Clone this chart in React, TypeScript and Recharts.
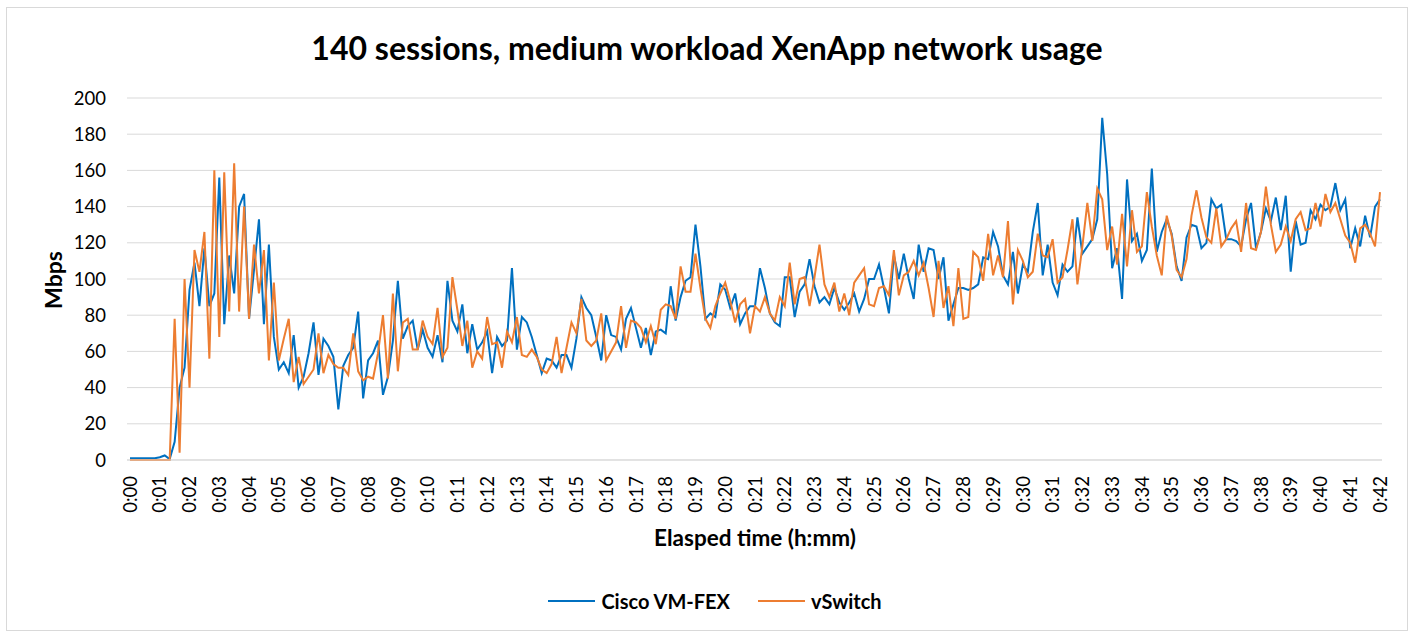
import React from "react";
import { LineChart, Line, XAxis, YAxis, CartesianGrid, Legend } from "recharts";

// Samples every 10 seconds, 0:00 .. 0:42
const tickLabels = [
  "0:00","0:01","0:02","0:03","0:04","0:05","0:06","0:07","0:08","0:09",
  "0:10","0:11","0:12","0:13","0:14","0:15","0:16","0:17","0:18","0:19",
  "0:20","0:21","0:22","0:23","0:24","0:25","0:26","0:27","0:28","0:29",
  "0:30","0:31","0:32","0:33","0:34","0:35","0:36","0:37","0:38","0:39",
  "0:40","0:41","0:42",
];

const yTicks = [0, 20, 40, 60, 80, 100, 120, 140, 160, 180, 200];

const ciscoVmFex = [
  1,1,1,1,1,1,1.5,2.5,0.5,10,
  40,51,94,109,85,117,85,92,156,75,
  113,92,140,147,78,105,133,75,119,68,
  50,54,48,69,40,46,59,76,47,67,
  63,57,28,52,58,62,82,34,55,59,
  66,36,46,66,99,67,74,77,61,72,
  62,57,69,54,99,77,71,86,59,75,
  61,65,71,48,68,63,66,106,61,79,
  76,68,58,48,56,55,51,58,58,51,
  67,90,84,80,68,55,80,69,68,61,
  78,84,73,62,73,58,71,72,70,96,
  77,90,99,101,130,107,78,81,79,97,
  94,84,92,75,81,85,85,106,95,81,
  76,74,101,101,79,93,97,111,96,87,
  90,86,95,87,83,87,92,82,89,100,
  100,108,95,81,113,100,114,100,89,119,
  104,117,116,100,112,77,86,95,95,94,
  95,97,112,111,126,118,102,97,115,92,
  108,104,126,142,102,119,98,91,108,104,
  107,134,114,118,122,133,189,158,106,117,
  89,155,121,125,110,116,161,115,126,133,
  125,107,99,123,130,129,117,120,144,139,
  141,122,122,121,118,133,142,117,126,139,
  132,145,127,146,104,132,119,120,138,133,
  141,138,140,153,138,144,117,128,118,135,
  123,140,144,
];

const vSwitch = [
  0,0,0,0,0,0,0,0,0,78,
  4,100,40,116,104,126,56,160,68,159,
  82,164,82,140,78,119,92,116,55,98,
  55,67,78,43,57,42,46,50,70,48,
  58,53,51,51,47,70,49,44,46,45,
  59,80,45,92,49,76,78,61,61,77,
  68,64,84,57,62,101,83,63,77,51,
  60,56,79,64,65,51,71,65,79,58,
  57,61,57,50,48,53,68,48,62,76,
  70,89,66,63,66,81,55,60,65,85,
  62,77,76,73,65,74,64,83,86,85,
  78,107,93,93,114,95,78,73,85,92,
  98,88,76,86,89,70,85,82,90,81,
  77,90,85,109,86,100,101,85,101,119,
  97,90,98,82,92,80,98,102,106,86,
  85,95,96,91,116,91,102,104,110,102,
  109,95,79,110,84,96,74,106,78,79,
  115,112,99,125,102,113,101,132,86,116,
  110,101,104,125,113,112,122,98,101,116,
  133,97,118,142,121,150,144,116,129,108,
  136,107,138,115,118,148,129,113,102,135,
  124,105,101,111,135,149,134,123,120,139,
  118,122,128,132,115,142,117,116,126,151,
  130,115,119,129,121,133,137,127,128,142,
  129,147,137,142,133,124,120,109,128,130,
  125,118,148,
];

const SAMPLES_PER_MINUTE = 6;

const data = ciscoVmFex.map((v, i) => ({ t: i, cisco: v, vswitch: vSwitch[i] }));
const xTicks = tickLabels.map((_, i) => i * SAMPLES_PER_MINUTE);

const FONT = "Lato, 'Open Sans', sans-serif";

const XTick = (props: any) => {
  const { x, y, payload } = props;
  const label = tickLabels[Math.round(payload.value / SAMPLES_PER_MINUTE)];
  return (
    <text
      x={x}
      y={y}
      transform={`rotate(-90 ${x} ${y})`}
      textAnchor="end"
      dy="0.36em"
      fontSize={18.5}
      fontFamily={FONT}
      fill="#000"
    >
      {label}
    </text>
  );
};

const YTick = (props: any) => {
  const { x, y, payload } = props;
  return (
    <text x={x} y={y} textAnchor="end" dy="0.36em" fontSize={18.5} fontFamily={FONT} fill="#000">
      {payload.value}
    </text>
  );
};

const LegendContent = (props: any) => {
  const { payload } = props;
  return (
    <div style={{ display: "flex", justifyContent: "center", alignItems: "center", gap: 28, fontFamily: FONT }}>
      {(payload || []).map((p: any) => (
        <div key={p.value} style={{ display: "flex", alignItems: "center" }}>
          <div style={{ width: 47, height: 2, background: p.color, marginRight: 6 }} />
          <span style={{ fontWeight: 700, fontSize: 20, color: "#000", lineHeight: "24px" }}>{p.value}</span>
        </div>
      ))}
    </div>
  );
};

export default function App() {
  return (
    <div style={{ position: "absolute", left: 0, top: 0, width: 1416, height: 633, background: "#fff" }}>
      <div
        style={{
          position: "absolute",
          left: 6,
          top: 7,
          width: 1400,
          height: 622,
          border: "1px solid #d9d9d9",
        }}
      />
      <div
        style={{
          position: "absolute",
          left: 0,
          top: 28,
          width: 1414,
          textAlign: "center",
          fontFamily: FONT,
          fontWeight: 700,
          fontSize: 32,
          color: "#000",
          lineHeight: "40px",
        }}
      >
        140 sessions, medium workload XenApp network usage
      </div>
      <div
        style={{
          position: "absolute",
          left: 53 - 40,
          top: 280 - 14,
          width: 80,
          height: 28,
          lineHeight: "28px",
          textAlign: "center",
          transform: "rotate(-90deg)",
          fontFamily: FONT,
          fontWeight: 700,
          fontSize: 23,
          color: "#000",
        }}
      >
        Mbps
      </div>
      <div
        style={{
          position: "absolute",
          left: 755 - 200,
          top: 538 - 14,
          width: 400,
          lineHeight: "28px",
          textAlign: "center",
          fontFamily: FONT,
          fontWeight: 700,
          fontSize: 22.5,
          color: "#000",
        }}
      >
        Elasped time (h:mm)
      </div>
      <div style={{ position: "absolute", left: 0, top: 0 }}>
        <LineChart
          width={1416}
          height={633}
          data={data}
          margin={{ top: 98, right: 34, left: 0, bottom: 0 }}
        >
          <CartesianGrid horizontal={true} vertical={false} stroke="#d9d9d9" strokeWidth={1} />
          <XAxis
            dataKey="t"
            type="number"
            domain={[0, 252]}
            ticks={xTicks}
            interval={0}
            padding={{ left: 3, right: 2 }}
            height={149}
            tick={<XTick />}
            tickLine={false}
            tickSize={0}
            tickMargin={16}
            axisLine={{ stroke: "#d9d9d9" }}
          />
          <YAxis
            type="number"
            domain={[0, 200]}
            ticks={yTicks}
            interval={0}
            width={127}
            tick={<YTick />}
            tickLine={false}
            tickSize={0}
            tickMargin={21}
            axisLine={false}
          />
          <Legend
            verticalAlign="bottom"
            content={<LegendContent />}
            wrapperStyle={{ position: "absolute", top: 589, left: 0, width: 1430, height: 24 }}
          />
          <Line
            type="linear"
            dataKey="cisco"
            name="Cisco VM-FEX"
            stroke="#0070C0"
            strokeWidth={2}
            dot={false}
            isAnimationActive={false}
          />
          <Line
            type="linear"
            dataKey="vswitch"
            name="vSwitch"
            stroke="#ED7D31"
            strokeWidth={2}
            dot={false}
            isAnimationActive={false}
          />
        </LineChart>
      </div>
    </div>
  );
}
